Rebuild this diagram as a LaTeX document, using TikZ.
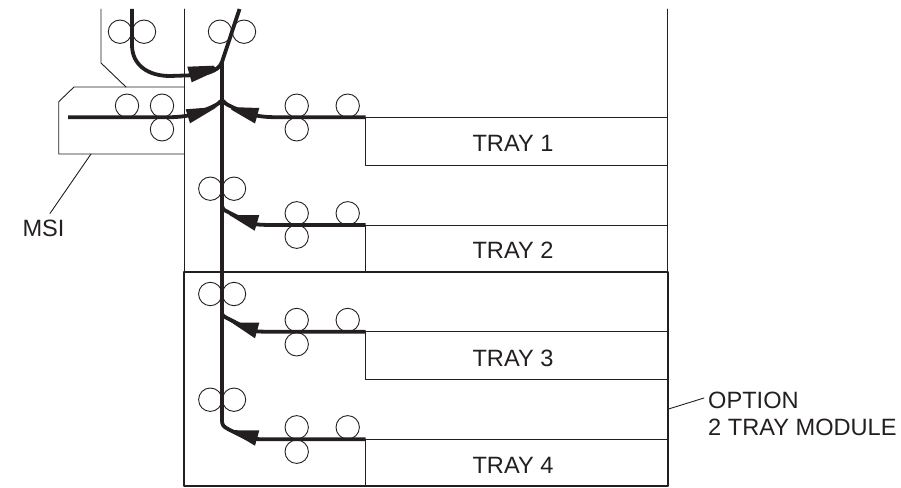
\documentclass[tikz,border=0pt]{standalone}
\usepackage{fontspec}
\setmainfont{Liberation Sans}
\definecolor{ink}{HTML}{231F20}
\tikzset{
	roller/.style={circle,draw=ink,line width=0.9pt,minimum size=23.4pt,inner sep=0pt,outer sep=0pt},
	frame/.style={draw=ink,line width=0.9pt},
	module/.style={draw=ink,line width=2.2pt},
	feed/.style={draw=ink,line width=3.8pt,line cap=butt,line join=round},
	head/.style={fill=ink},
	lbl/.style={font=\fontsize{23.6}{27}\selectfont,text=ink,inner sep=6pt}
}

\begin{document}
\begin{tikzpicture}[line cap=round,line join=round,x=1pt,y=-1pt]
	\useasboundingbox (0,0) rectangle (901,487);
	% junctions on the main path
	\coordinate (top) at (239.5,9);
	\coordinate (j0) at (222,62);
	\coordinate (j1) at (222,100);
	\coordinate (j2) at (222,206);
	\coordinate (j3) at (222,313);
	\coordinate (j4) at (222,421);
	% housing
	\draw [frame] (101,9)-- (101,63)-- (126,87);
	\draw [frame] (184.5,9)-- (184.5,272);
	\draw [frame] (667,9)-- (667,272);
	% MSI
	\draw [frame] (184.5,87)-- (74,87)-- (58.7,101.7)-- (58.7,154)-- (184.5,154);
	\coordinate (msifoot) at (91,154);
	% trays
	\coordinate (t1) at (365.7,117.3);
	\coordinate (t2) at (365.7,225);
	\coordinate (t3) at (365.7,331.7);
	\coordinate (t4) at (365.7,439.3);
	\draw [frame] (667,117.3)-- (t1)-- (365.7,165)-- (667,165);
	\draw [frame] (667,225)-- (t2)-- (365.7,272);
	\draw [frame] (667,331.7)-- (t3)-- (365.7,379.7)-- (667,379.7);
	\draw [frame] (667,439.3)-- (t4)-- (365.7,486);
	\draw [module] (184.3,272.3) rectangle (667.7,486);
	\coordinate (optfoot) at (668.5,409);
	% rollers
	\node [roller] (a1) at (120,31.7) {};
	\node [roller] (a2) at (144,31.7) {};
	\node [roller] (b1) at (220,31.7) {};
	\node [roller] (b2) at (244,31.7) {};
	\node [roller] (m1) at (127,105.7) {};
	\node [roller] (m2) at (162,105.7) {};
	\node [roller] (m3) at (162,129.3) {};
	\node [roller] (c1) at (296.7,105.7) {};
	\node [roller] (c2) at (296.7,129.3) {};
	\node [roller] (c3) at (347.7,105.7) {};
	\node [roller] (d1) at (210.3,188.7) {};
	\node [roller] (d2) at (234,188.7) {};
	\node [roller] (e1) at (296.7,213.3) {};
	\node [roller] (e2) at (296.7,236.7) {};
	\node [roller] (e3) at (347.7,213.3) {};
	\node [roller] (f1) at (210.3,294) {};
	\node [roller] (f2) at (234,294) {};
	\node [roller] (g1) at (296.7,320) {};
	\node [roller] (g2) at (296.7,344.3) {};
	\node [roller] (g3) at (347.7,320) {};
	\node [roller] (h1) at (210.3,399.7) {};
	\node [roller] (h2) at (234,399.7) {};
	\node [roller] (k1) at (296.7,427.3) {};
	\node [roller] (k2) at (296.7,451.7) {};
	\node [roller] (k3) at (347.7,427.3) {};
	% paper paths
	\draw [feed] (top)-- (j0)-- (j4) .. controls (222,425) and (224,427) .. (228,429)-- (246,438) .. controls (252,439.3) and (262,439.3) .. (280,439.3)-- (t4);
	\draw [feed] (132,9)-- (132,45) .. controls (132,65) and (148,76) .. (170,76)-- (185,75.5) .. controls (205,75) and (218,72) .. (j0);
	\draw [feed] (68,117.3)-- (165,117.3) .. controls (180,117.3) and (190,116) .. (200,112) .. controls (212,107) and (218,105) .. (j1);
	\draw [feed] (t1)-- (280,117.3) .. controls (264,117.3) and (254,116) .. (244,112) .. controls (232,107) and (226,105) .. (j1);
	\draw [feed] (t2)-- (280,225) .. controls (264,225) and (256,225) .. (250,223)-- (228,212) .. controls (224,210) and (222,209) .. (j2);
	\draw [feed] (t3)-- (280,331.7) .. controls (264,331.7) and (256,332) .. (250,330)-- (230,319.5) .. controls (225,317) and (222,316) .. (j3);
	% arrowheads
	\fill [head] (187.3,66.7)-- (213.3,65.7)-- (218.3,70)-- (191.7,82.3)-- cycle;
	\fill [head] (185.7,109.3)-- (211.7,107.3)-- (216.7,107.3)-- (190,123.3)-- cycle;
	\fill [head] (259.3,108)-- (238,107.3)-- (231,109.5)-- (255,123.5)-- cycle;
	\fill [head] (259.3,215)-- (236,215)-- (229,214.8)-- (254.7,230.7)-- cycle;
	\fill [head] (259.3,322.7)-- (236,322.7)-- (229,320.8)-- (255,338.3)-- cycle;
	\fill [head] (259.3,430.3)-- (238,430.3)-- (228,429.5)-- (255,445.7)-- cycle;
	% labels
	\node [lbl] (tray1) at (513,143) {TRAY 1};
	\node [lbl] (tray2) at (513,250) {TRAY 2};
	\node [lbl] (tray3) at (513,358) {TRAY 3};
	\node [lbl] (tray4) at (513,465) {TRAY 4};
	\node [lbl] (msi) at (43.5,228) {MSI};
	\node [lbl,anchor=west,inner sep=0pt] (option) at (708,400) {OPTION};
	\node [lbl,anchor=west,inner sep=0pt] (twotray) at (708,427) {2 TRAY MODULE};
	\draw [frame] (msifoot)-- ([xshift=6.5pt]msi.north);
	\draw [frame] (optfoot)-- ([xshift=-4pt,yshift=2pt]option.west);
\end{tikzpicture}
\end{document}
